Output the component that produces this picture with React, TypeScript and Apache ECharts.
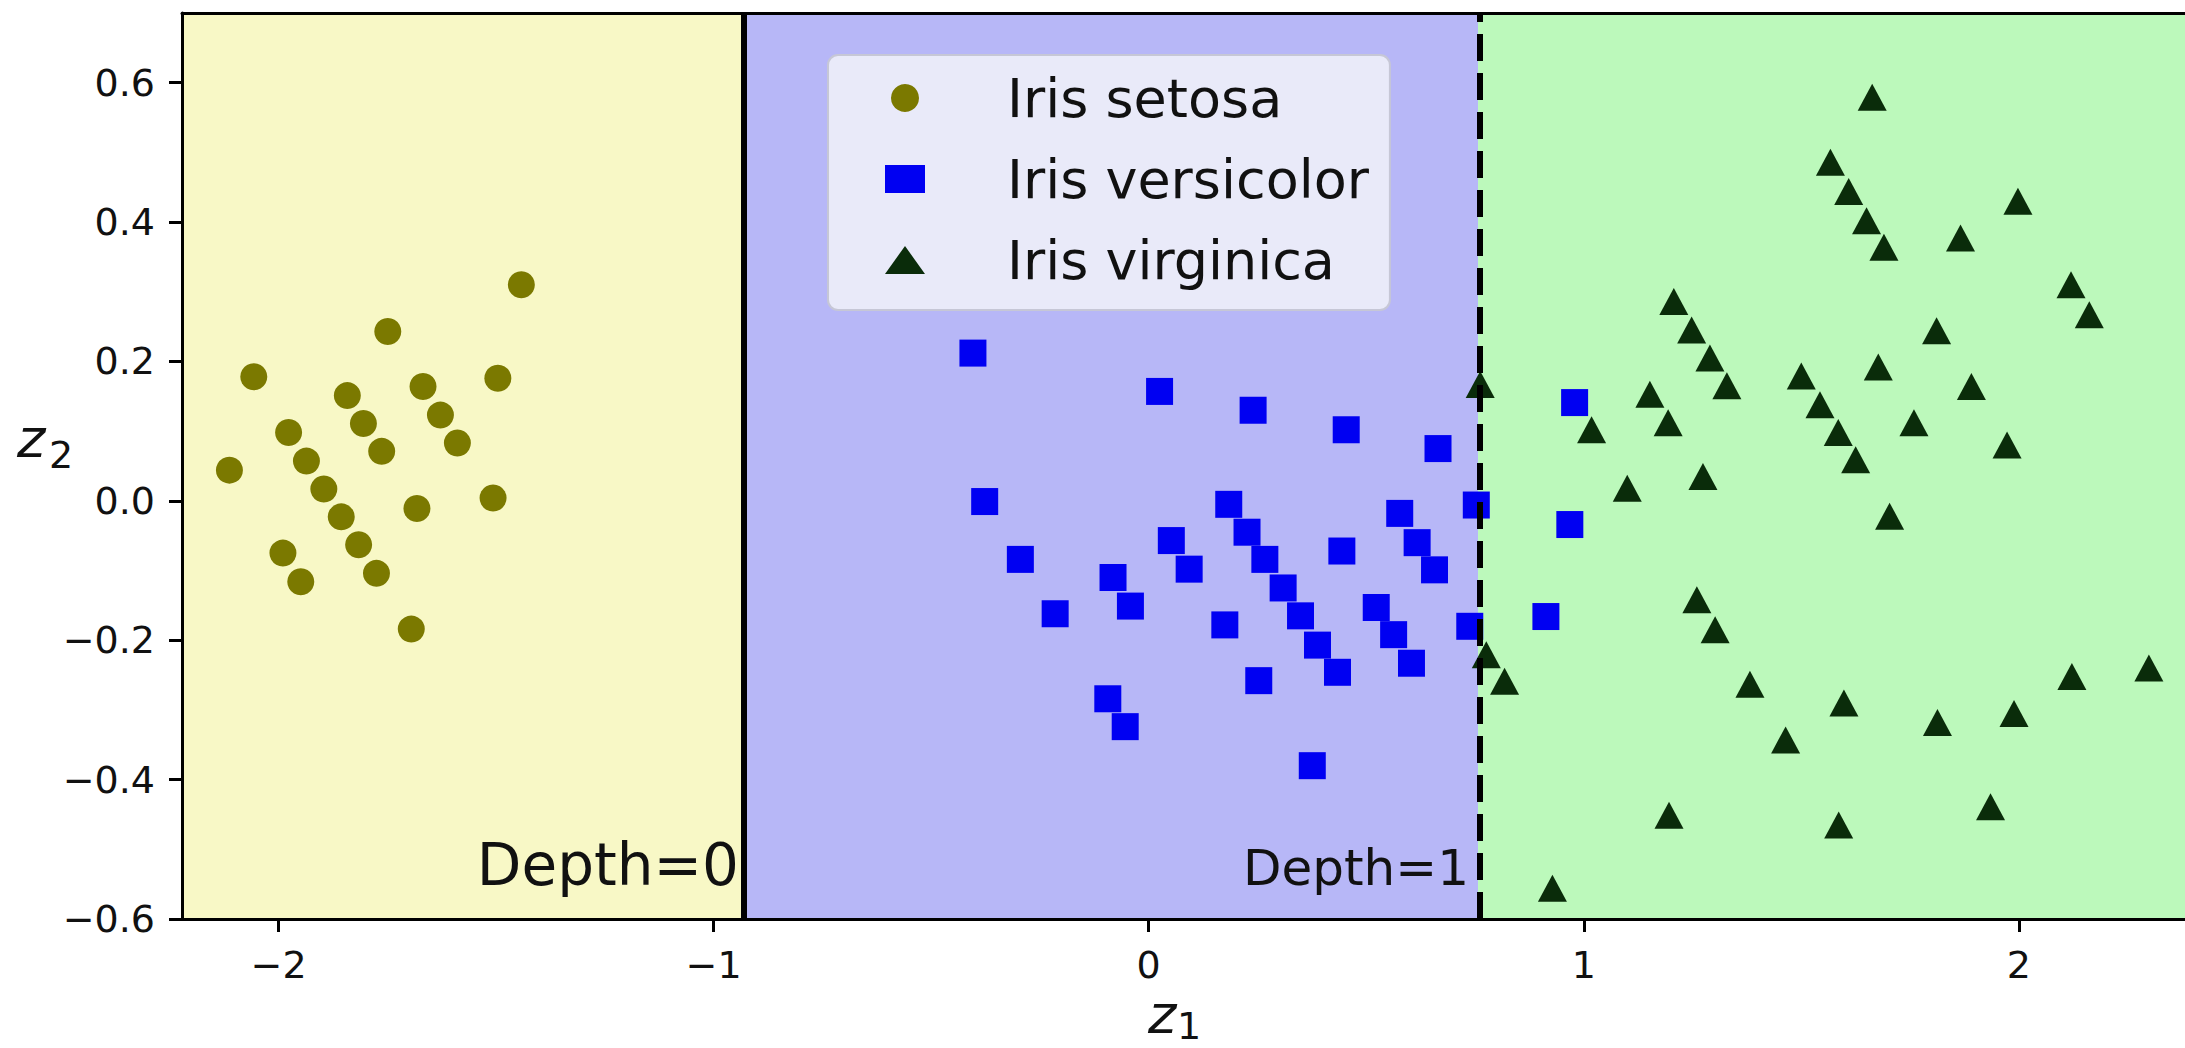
import React, { useEffect, useRef } from "react";
import * as echarts from "echarts";

// ---- data ----
const setosaZ1 = [-1.442, -1.749, -2.057, -1.496, -1.842, -1.668, -1.805, -1.628, -1.977, -1.763, -1.589, -1.936, -2.113, -1.896, -1.507, -1.682, -1.856, -1.816, -1.990, -1.775, -1.949, -1.695];
const setosaZ2 = [0.310, 0.243, 0.178, 0.176, 0.151, 0.164, 0.111, 0.123, 0.098, 0.071, 0.083, 0.057, 0.044, 0.017, 0.004, -0.011, -0.023, -0.063, -0.075, -0.104, -0.116, -0.184];

const versicolorZ1 = [-0.404, 0.025, 0.240, 0.454, 0.665, -0.377, 0.184, 0.577, 0.226, 0.052, 0.444, 0.617, 0.267, -0.295, 0.093, 0.657, 0.309, -0.082, 0.523, 0.349, -0.042, -0.215, 0.175, 0.388, 0.563, 0.434, 0.604, 0.253, -0.094, -0.054, 0.376, 0.979, 0.753, 0.968, 0.738, 0.913];
const versicolorZ2 = [0.212, 0.157, 0.130, 0.102, 0.075, -0.001, -0.005, -0.018, -0.045, -0.057, -0.072, -0.060, -0.084, -0.084, -0.098, -0.099, -0.125, -0.110, -0.153, -0.165, -0.151, -0.162, -0.178, -0.207, -0.192, -0.246, -0.233, -0.258, -0.284, -0.324, -0.380, 0.141, -0.006, -0.034, -0.180, -0.166];

const virginicaZ1 = [1.663, 1.567, 1.609, 1.650, 1.690, 1.866, 1.998, 2.120, 2.162, 1.207, 1.248, 1.290, 1.329, 1.811, 1.677, 1.500, 1.543, 1.585, 1.625, 1.759, 1.891, 1.973, 0.762, 1.152, 1.194, 1.018, 1.100, 1.274, 1.703, 1.260, 1.302, 0.776, 0.818, 1.382, 1.598, 1.464, 1.813, 1.989, 2.122, 2.299, 1.196, 1.586, 1.935, 0.928];
const virginicaZ2 = [0.579, 0.486, 0.444, 0.402, 0.364, 0.377, 0.430, 0.310, 0.267, 0.286, 0.245, 0.205, 0.165, 0.244, 0.192, 0.179, 0.138, 0.098, 0.059, 0.112, 0.164, 0.080, 0.167, 0.153, 0.112, 0.102, 0.018, 0.035, -0.022, -0.142, -0.185, -0.221, -0.259, -0.263, -0.290, -0.343, -0.318, -0.305, -0.252, -0.240, -0.451, -0.465, -0.439, -0.556];

const seriesNames = ["Iris setosa", "Iris versicolor", "Iris virginica"];
const xTicks = [-2, -1, 0, 1, 2];
const yTicks = [-0.6, -0.4, -0.2, 0.0, 0.2, 0.4, 0.6];
const xRange = [-2.222, 2.382];
const yRange = [-0.6, 0.7];
const thresholdDepth0 = -0.925;
const thresholdDepth1 = 0.757;
const depthLabels = ["Depth=0", "Depth=1"];

const pairs = (xs: number[], ys: number[]) => xs.map((x, i) => [x, ys[i]]);
const minusFmt = (s: string) => s.replace("-", "\u2212");

const FONT = '"DejaVu Sans", "Liberation Sans", sans-serif';

export default function App() {
  const ref = useRef<HTMLDivElement>(null);

  useEffect(() => {
    if (!ref.current) return;
    const chart = echarts.init(ref.current, null, { renderer: "svg" });

    const axisLineStyle = { color: "#000", width: 3 };

    const option: any = {
      animation: false,
      backgroundColor: "#ffffff",
      grid: { left: 182, top: 13, right: 0, bottom: 129, containLabel: false },
      xAxis: [
        {
          type: "value",
          min: xRange[0],
          max: xRange[1],
          z: 10,
          axisLine: { show: true, onZero: false, lineStyle: axisLineStyle },
          axisTick: { show: true, customValues: xTicks, length: 13, lineStyle: { color: "#000", width: 3 } },
          axisLabel: {
            customValues: xTicks,
            margin: 27,
            fontSize: 38,
            fontFamily: FONT,
            color: "#111",
            formatter: (v: number) => minusFmt(String(Math.round(v))),
          },
          splitLine: { show: false },
        },
        {
          type: "value",
          position: "top",
          min: xRange[0],
          max: xRange[1],
          z: 10,
          axisLine: { show: true, onZero: false, lineStyle: axisLineStyle },
          axisTick: { show: false },
          axisLabel: { show: false },
          splitLine: { show: false },
        },
      ],
      yAxis: {
        type: "value",
        min: yRange[0],
        max: yRange[1],
        z: 10,
        axisLine: { show: true, onZero: false, lineStyle: axisLineStyle },
        axisTick: { show: true, customValues: yTicks, length: 13, lineStyle: { color: "#000", width: 3 } },
        axisLabel: {
          customValues: yTicks,
          margin: 27,
          fontSize: 38,
          fontFamily: FONT,
          color: "#111",
          formatter: (v: number) => minusFmt(v.toFixed(1)),
        },
        splitLine: { show: false },
      },
      legend: {
        data: seriesNames,
        orient: "vertical",
        left: 828,
        top: 55,
        padding: [16, 21, 23, 57],
        itemWidth: 40,
        itemHeight: 28,
        itemGap: 27,
        backgroundColor: "#e9eaf9",
        borderColor: "#c6c7d6",
        borderWidth: 2,
        borderRadius: 10,
        textStyle: {
          fontSize: 54,
          fontFamily: FONT,
          color: "#111",
          lineHeight: 54,
          padding: [0, 0, 0, 77],
        },
      },
      series: [
        {
          name: seriesNames[0],
          type: "scatter",
          symbol: "circle",
          symbolSize: 27,
          itemStyle: { color: "#7b7900", opacity: 1 },
          data: pairs(setosaZ1, setosaZ2),
          markArea: {
            silent: true,
            data: [
              [
                { xAxis: xRange[0], yAxis: yRange[0], itemStyle: { color: "#f8f8c6" } },
                { xAxis: thresholdDepth0, yAxis: yRange[1] },
              ],
              [
                { xAxis: thresholdDepth0, yAxis: yRange[0], itemStyle: { color: "#b7b7f7" } },
                { xAxis: thresholdDepth1, yAxis: yRange[1] },
              ],
              [
                { xAxis: thresholdDepth1, yAxis: yRange[0], itemStyle: { color: "#bcf9bb" } },
                { xAxis: xRange[1], yAxis: yRange[1] },
              ],
            ],
          },
          markLine: {
            silent: true,
            symbol: ["none", "none"],
            label: { show: false },
            data: [
              { xAxis: thresholdDepth0, lineStyle: { type: "solid", width: 6, color: "#000" } },
              { xAxis: thresholdDepth1, lineStyle: { type: [27, 12], width: 6, color: "#000" } },
            ],
          },
        },
        {
          name: seriesNames[1],
          type: "scatter",
          symbol: "rect",
          symbolSize: 27,
          itemStyle: { color: "#0000f2", opacity: 1 },
          data: pairs(versicolorZ1, versicolorZ2),
        },
        {
          name: seriesNames[2],
          type: "scatter",
          symbol: "triangle",
          symbolSize: [29, 27],
          itemStyle: { color: "#0a2c0a", opacity: 1 },
          data: pairs(virginicaZ1, virginicaZ2),
        },
      ],
      graphic: [
        {
          type: "text",
          x: 739,
          y: 865,
          z: 100,
          style: { text: depthLabels[0], font: `58px ${FONT}`, fill: "#111", align: "right", verticalAlign: "middle" },
        },
        {
          type: "text",
          x: 1469,
          y: 868,
          z: 100,
          style: { text: depthLabels[1], font: `50px ${FONT}`, fill: "#111", align: "right", verticalAlign: "middle" },
        },
        {
          type: "text",
          x: 1148,
          y: 1014,
          z: 100,
          style: { text: "z", font: `italic 54px ${FONT}`, fill: "#111", align: "left", verticalAlign: "middle" },
        },
        {
          type: "text",
          x: 1177,
          y: 1026,
          z: 100,
          style: { text: "1", font: `38px ${FONT}`, fill: "#111", align: "left", verticalAlign: "middle" },
        },
        {
          type: "text",
          x: 17,
          y: 438,
          z: 100,
          style: { text: "z", font: `italic 54px ${FONT}`, fill: "#111", align: "left", verticalAlign: "middle" },
        },
        {
          type: "text",
          x: 49,
          y: 455,
          z: 100,
          style: { text: "2", font: `38px ${FONT}`, fill: "#111", align: "left", verticalAlign: "middle" },
        },
      ],
    };

    chart.setOption(option);
    return () => chart.dispose();
  }, []);

  return (
    <div
      ref={ref}
      style={{ position: "fixed", left: 0, top: 0, width: 2185, height: 1048, background: "#fff" }}
    />
  );
}
